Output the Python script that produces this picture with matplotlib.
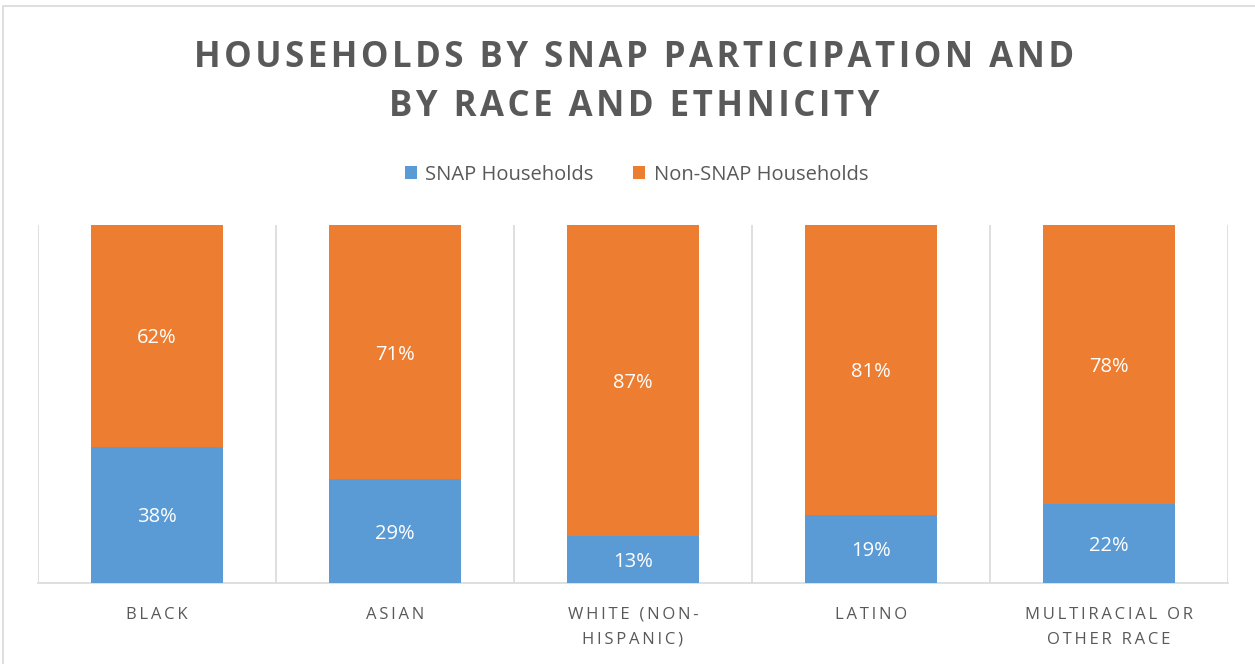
import matplotlib
matplotlib.use("Agg")
import matplotlib.pyplot as plt
import numpy as np
from matplotlib.patches import Rectangle

categories = ["BLACK", "ASIAN", "WHITE (NON-\nHISPANIC)", "LATINO", "MULTIRACIAL OR\nOTHER RACE"]
snap = [38, 29, 13, 19, 22]
non_snap = [62, 71, 87, 81, 78]
series_names = ["SNAP Households", "Non-SNAP Households"]

BLUE = "#5b9bd5"
ORANGE = "#ed7d31"
TEXT = "#595959"
GRID = "#d9d9d9"

plt.rcParams["font.family"] = ["Open Sans", "DejaVu Sans"]


def spaced(s, sep="\u2009"):
    # crude letter spacing, keep line breaks
    return "\n".join(sep.join(line) for line in s.split("\n"))


fig = plt.figure(figsize=(12.55, 6.64), dpi=100)
fig.patches.append(Rectangle((3 / 1255, -0.1), 1.2, (658 / 664) + 0.1, transform=fig.transFigure,
                             fill=False, edgecolor=GRID, lw=1.2))
ax = fig.add_axes([38 / 1255, 81 / 664, 1190 / 1255, 358 / 664])

xs = np.arange(len(categories))
w = 0.555
b1 = ax.bar(xs, snap, width=w, color=BLUE, label=series_names[0], zorder=3)
b2 = ax.bar(xs, non_snap, width=w, bottom=snap, color=ORANGE, label=series_names[1], zorder=3)

for x, s, n in zip(xs, snap, non_snap):
    ax.text(x, s / 2, f"{s}%", ha="center", va="center_baseline", color="white", fontsize=14.5, zorder=4)
    ax.text(x, s + n / 2, f"{n}%", ha="center", va="center_baseline", color="white", fontsize=14.5, zorder=4)

ax.set_xlim(-0.5, len(categories) - 0.5)
ax.set_ylim(0, 100)
for g in np.arange(-0.5, len(categories), 1.0):
    ax.axvline(g, color=GRID, lw=1.2, zorder=1)
for sp in ["top", "left", "right"]:
    ax.spines[sp].set_visible(False)
ax.spines["bottom"].set_color(GRID)
ax.spines["bottom"].set_linewidth(1.2)
ax.set_yticks([])
ax.set_xticks(xs)
ax.set_xticklabels([spaced(c) for c in categories], fontsize=12, color=TEXT, linespacing=1.75)
ax.tick_params(axis="x", length=0, pad=17)

fig.text(0.505, 0.876, spaced("HOUSEHOLDS BY SNAP PARTICIPATION AND\nBY RACE AND ETHNICITY", "\u200a"),
         ha="center", va="center", fontsize=25, fontweight="bold", color=TEXT, linespacing=1.5)

fig.legend(handles=[b1, b2], labels=series_names, loc="center", bbox_to_anchor=(0.507, 0.737),
           ncol=2, frameon=False, fontsize=14.5, labelcolor=TEXT, handlelength=0.6, handleheight=0.6,
           handletextpad=0.4, columnspacing=2.0)

fig.savefig("out.png", dpi=100)
